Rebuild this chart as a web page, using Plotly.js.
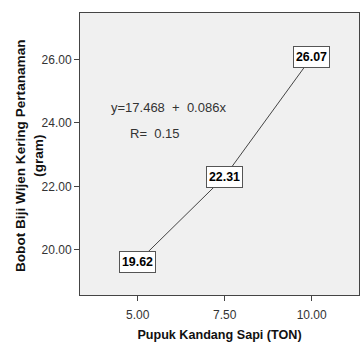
<!DOCTYPE html>
<html><head><meta charset="utf-8">
<script src="https://cdn.plot.ly/plotly-3.0.1.min.js"></script>
<style>body{margin:0;padding:0;background:#fff}#c{width:360px;height:343px}</style>
</head><body><div id="c"></div>
<script>
var xValues = [5, 7.5, 10];
var yValues = [19.62, 22.31, 26.07];
var pointLabels = ["19.62", "22.31", "26.07"];
var xTicks = [5, 7.5, 10];
var xTickText = ["5.00", "7.50", "10.00"];
var yTicks = [20, 22, 24, 26];
var yTickText = ["20.00", "22.00", "24.00", "26.00"];
var equationText = "y=17.468\u00A0 +\u00A0 0.086x";
var rText = "R=\u00A0 0.15";
var yTitle = "<b>Bobot Biji Wijen Kering Pertanaman<br>(gram)</b>";
var xTitle = "<b>Pupuk Kandang Sapi (TON)</b>";

var FONT = "Liberation Sans, Arial, sans-serif";
var xr = [3.34, 11.36];
var yr = [18.58, 27.46];
var pxPerUnit = 279/(xr[1]-xr[0]);

var annotations = xValues.map(function(x, i){
  return {x: x, y: yValues[i], xref:'x', yref:'y', text: '<b>'+pointLabels[i]+'</b>', showarrow:false,
    font:{family:FONT, size:12.4, color:'#000'}, bgcolor:'#fff', bordercolor:'#555', borderwidth:1, borderpad:2,
    width:31, height:16};
});
annotations.push({x: xr[0] + (109-80)/pxPerUnit, y:24.48, xref:'x', yref:'y', text:equationText, showarrow:false,
  xanchor:'left', yanchor:'middle', font:{family:FONT, size:13, color:'#333'}});
annotations.push({x: xr[0] + (128-80)/pxPerUnit, y:23.67, xref:'x', yref:'y', text:rText, showarrow:false,
  xanchor:'left', yanchor:'middle', font:{family:FONT, size:13, color:'#333'}});
annotations.push({x:(29-80)/279, y:(295-156)/282, xref:'paper', yref:'paper', text:yTitle, showarrow:false,
  textangle:-90, xanchor:'center', yanchor:'middle', font:{family:FONT, size:13.6, color:'#111'}});

Plotly.newPlot('c', [{
  x: xValues, y: yValues, type:'scatter', mode:'lines',
  line:{color:'#444', width:1}, hoverinfo:'none'
}], {
  width:360, height:343,
  margin:{l:80, r:1, t:13, b:48},
  paper_bgcolor:'#fff', plot_bgcolor:'#f0f0f0',
  showlegend:false,
  font:{family:FONT, color:'#222'},
  xaxis:{range:xr, tickvals:xTicks, ticktext:xTickText, ticks:'outside', ticklen:5, tickcolor:'#444',
    showgrid:false, zeroline:false, showline:true, mirror:true, linecolor:'#444', linewidth:1,
    tickfont:{family:FONT, size:12, color:'#333'}, ticklabelstandoff:4, automargin:false,
    title:{text:xTitle, font:{family:FONT, size:12.6, color:'#111'}, standoff:8}},
  yaxis:{range:yr, tickvals:yTicks, ticktext:yTickText, ticks:'outside', ticklen:5, tickcolor:'#444',
    showgrid:false, zeroline:false, showline:true, mirror:true, linecolor:'#444', linewidth:1,
    tickfont:{family:FONT, size:12, color:'#333'}, automargin:false},
  annotations: annotations
}, {staticPlot:true});
</script></body></html>
